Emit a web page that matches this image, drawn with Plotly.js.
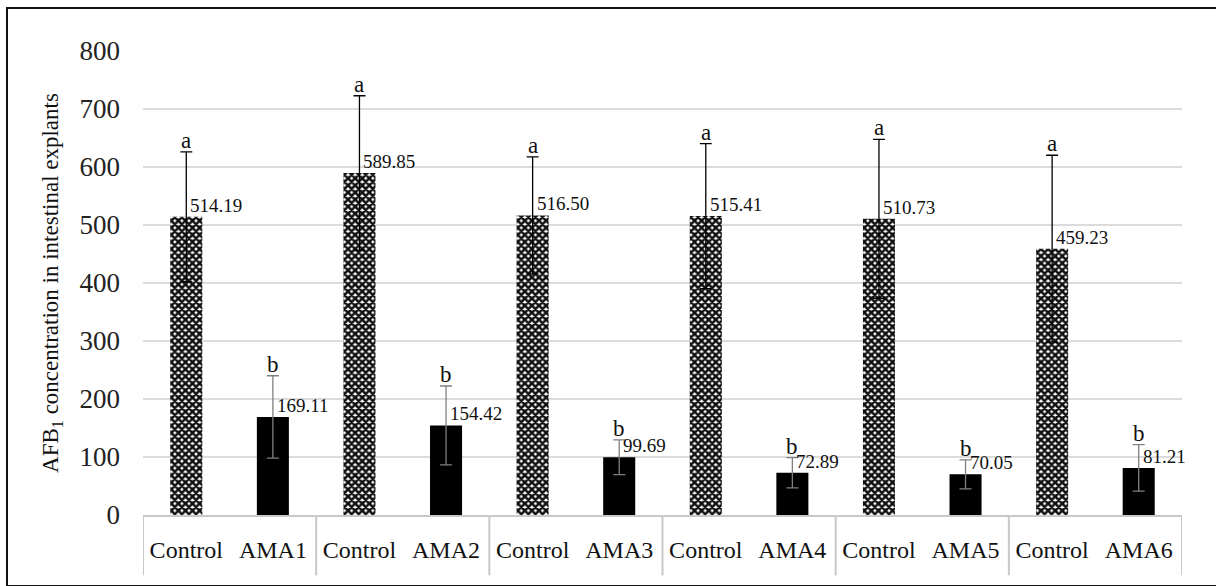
<!DOCTYPE html>
<html>
<head>
<meta charset="utf-8">
<script src="https://cdn.plot.ly/plotly-3.0.1.min.js"></script>
<style>
html,body{margin:0;padding:0;background:#fff;}
#wrap{position:relative;width:1216px;height:586px;overflow:hidden;}
#chart{position:absolute;left:0;top:0;width:1216px;height:586px;}
#frame{position:absolute;left:6px;top:7px;width:1220px;height:576px;border:2px solid #111;pointer-events:none;}
</style>
</head>
<body>
<div id="wrap"><div id="chart"></div><div id="frame"></div></div>
<script>
// Data
const categories = ["Control","AMA1","Control","AMA2","Control","AMA3","Control","AMA4","Control","AMA5","Control","AMA6"];
const controlValues = [514.19, 589.85, 516.50, 515.41, 510.73, 459.23];
const controlErrors = [112, 133, 101, 125, 137, 161];
const amaValues = [169.11, 154.42, 99.69, 72.89, 70.05, 81.21];
const amaErrors = [71, 68, 30, 26, 25, 40];
const controlLetters = ["a","a","a","a","a","a"];
const amaLetters = ["b","b","b","b","b","b"];
const yTicks = [0,100,200,300,400,500,600,700,800];

const FONT = "Liberation Serif";
const ctrlX = controlValues.map((v,i)=>2*i);
const amaX = amaValues.map((v,i)=>2*i+1);

const traces = [
  {
    type:'bar', x: ctrlX, y: controlValues, width: 0.37,
    marker:{color:'#ffffff', line:{width:0},
      pattern:{shape:'x', fgcolor:'#111111', bgcolor:'#ffffff', size:5, solidity:0.75}},
    error_y:{type:'data', array: controlErrors, visible:true, color:'#000000', thickness:1.3, width:6},
    hoverinfo:'skip', showlegend:false
  },
  {
    type:'bar', x: amaX, y: amaValues, width: 0.37,
    marker:{color:'#000000', line:{width:0}},
    error_y:{type:'data', array: amaErrors, visible:true, color:'#808080', thickness:1.3, width:6},
    hoverinfo:'skip', showlegend:false
  }
];

const annotations = [];
function addLabels(xs, vals, errs, letters){
  vals.forEach((v,i)=>{
    annotations.push({x: xs[i], y: v+errs[i], xref:'x', yref:'y', text: letters[i],
      showarrow:false, xanchor:'center', yanchor:'bottom', yshift:-3,
      font:{family:FONT, size:23, color:'#111'}});
    annotations.push({x: xs[i], y: v, xref:'x', yref:'y', text: v.toFixed(2),
      showarrow:false, xanchor:'left', yanchor:'bottom', xshift:2, yshift:-1,
      font:{family:FONT, size:19, color:'#111'}});
  });
}
addLabels(ctrlX, controlValues, controlErrors, controlLetters);
addLabels(amaX, amaValues, amaErrors, amaLetters);

// group dividers on the category axis
const shapes = [];
for (let g = 0; g <= categories.length; g += 2) {
  shapes.push({type:'line', xref:'x', yref:'paper', x0: g-0.5, x1: g-0.5, y0: 0, y1: -0.13,
    line:{color:'#c8c8c8', width:2}});
}

const layout = {
  width:1216, height:586,
  margin:{l:143, r:34, t:51, b:71},
  paper_bgcolor:'#ffffff', plot_bgcolor:'#ffffff',
  bargap:0.6,
  font:{family:FONT, color:'#111'},
  xaxis:{
    range:[-0.5, categories.length-0.5],
    tickvals: categories.map((c,i)=>i), ticktext: categories,
    tickfont:{family:FONT, size:24, color:'#111'},
    ticks:'', showgrid:false, zeroline:false,
    showline:true, linecolor:'#c8c8c8', linewidth:2,
    ticklabelstandoff: 12, fixedrange:true
  },
  yaxis:{
    range:[0,800], tickvals: yTicks, ticktext: yTicks.map(String),
    tickfont:{family:FONT, size:27, color:'#222'},
    showgrid:true, gridcolor:'#dcdcdc', gridwidth:1.5,
    zeroline:false, showline:false, ticks:'',
    ticklabelstandoff: 22,
    title:{text:'AFB<sub>1</sub> concentration in intestinal explants',
      font:{family:FONT, size:23, color:'#111'}, standoff:14},
    fixedrange:true
  },
  annotations: annotations,
  shapes: shapes
};

Plotly.newPlot('chart', traces, layout, {displayModeBar:false, staticPlot:true});
</script>
</body>
</html>
